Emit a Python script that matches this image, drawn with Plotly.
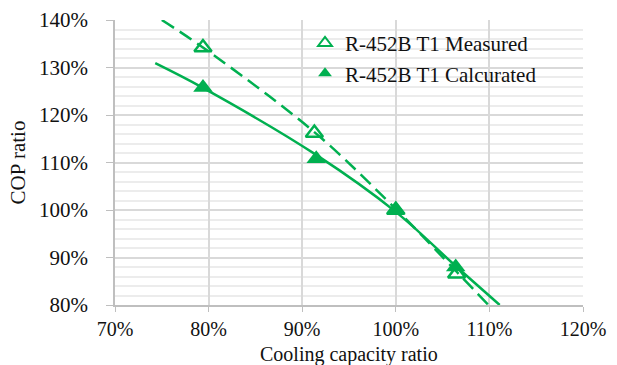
import plotly.graph_objects as go

# Data (ratios in %)
meas_x = [79.4, 91.3, 100.0, 106.5]
meas_y = [134.2, 116.2, 100.0, 86.6]
calc_x = [79.4, 91.5, 100.0, 106.4]
calc_y = [125.8, 110.8, 100.0, 88.0]

# Trendlines
meas_trend_x = [75.0, 79.4, 91.3, 100.0, 106.5, 109.9]
meas_trend_y = [140.0, 134.2, 116.4, 100.2, 87.0, 80.0]
calc_trend_x = [74.3, 79.4, 91.5, 100.0, 106.4, 111.1]
calc_trend_y = [130.9, 125.7, 111.6, 99.6, 88.2, 80.0]

x_ticks = [70, 80, 90, 100, 110, 120]
y_ticks = [80, 90, 100, 110, 120, 130, 140]

GREEN = "#00B050"
FONT = "Liberation Serif, Times New Roman, serif"
FS = 21

fig = go.Figure()
fig.add_trace(go.Scatter(x=meas_trend_x, y=meas_trend_y, mode="lines",
                         line=dict(color=GREEN, width=2.5, dash="14px,7px", shape="spline"),
                         showlegend=False, hoverinfo="skip"))
fig.add_trace(go.Scatter(x=calc_trend_x, y=calc_trend_y, mode="lines",
                         line=dict(color=GREEN, width=2.5, shape="spline"),
                         showlegend=False, hoverinfo="skip"))
fig.add_trace(go.Scatter(x=meas_x, y=meas_y, mode="markers", name="R-452B T1 Measured",
                         marker=dict(symbol="triangle-up-open", size=15, color=GREEN,
                                     line=dict(width=2.5, color=GREEN))))
fig.add_trace(go.Scatter(x=calc_x, y=calc_y, mode="markers", name="R-452B T1 Calcurated",
                         marker=dict(symbol="triangle-up", size=17, color=GREEN)))

# white box behind the legend (covers gridlines like the reference)
fig.add_shape(type="rect", xref="paper", yref="paper",
              x0=(300 - 115) / 468, x1=1.0, y0=1 - (88 - 20) / 285, y1=1 - (29 - 20) / 285,
              fillcolor="white", line=dict(width=0), layer="between")

# x-axis title placed as text below the tick labels
fig.add_annotation(text="Cooling capacity ratio", xref="paper", yref="paper",
                   x=0.5, y=-(354 - 305) / 285, xanchor="center", yanchor="middle",
                   showarrow=False, font=dict(family=FONT, size=20, color="#111111"))

fig.update_layout(
    width=617, height=365,
    margin=dict(l=115, r=34, t=20, b=60),
    paper_bgcolor="white", plot_bgcolor="white",
    font=dict(family=FONT, size=FS, color="#111111"),
    legend=dict(x=0.406, y=0.99, xanchor="left", yanchor="top",
                bgcolor="rgba(0,0,0,0)", borderwidth=0, font=dict(size=FS),
                itemsizing="constant", tracegroupgap=0,
                itemwidth=30),
    xaxis=dict(range=[70, 120], tickvals=x_ticks,
               ticktext=[f"{v}%" for v in x_ticks],
               tickfont=dict(size=20),
               showgrid=True, gridcolor="#d9d9d9", gridwidth=2,
               showline=True, linecolor="#bfbfbf", linewidth=1.5,
               ticks="outside", ticklen=5, tickcolor="#bfbfbf",
               ticklabelstandoff=0, automargin=False,
               zeroline=False),
    yaxis=dict(range=[80, 140], tickvals=y_ticks,
               ticktext=[f"{v}%" for v in y_ticks],
               showgrid=True, gridcolor="#d9d9d9", gridwidth=2,
               minor=dict(dtick=2, showgrid=True, gridcolor="#ececec", gridwidth=1.5),
               showline=True, linecolor="#bfbfbf", linewidth=1.5,
               ticks="outside", ticklen=7, tickcolor="#bfbfbf",
               ticklabelstandoff=14, automargin=False,
               zeroline=False,
               title=dict(text="COP ratio", standoff=8, font=dict(size=FS))),
)

fig.write_html("out.html")
